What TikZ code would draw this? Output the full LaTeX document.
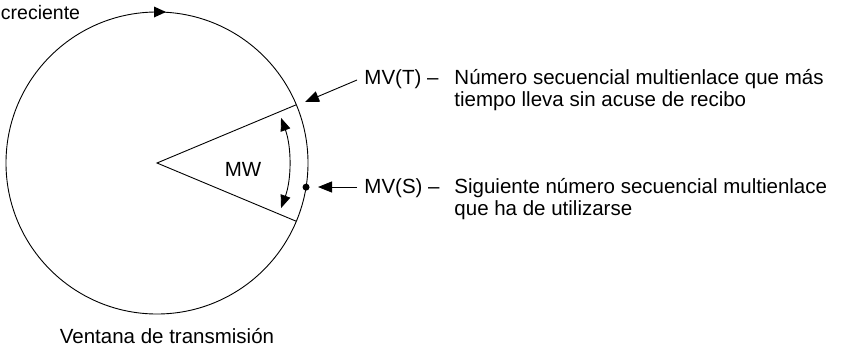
\documentclass[tikz,border=0pt]{standalone}
\usepackage{fontspec}
\setmainfont{Liberation Sans}
\usetikzlibrary{arrows.meta,calc}
\begin{document}
\begin{tikzpicture}[x=1pt,y=-1pt,
  line width=0.9pt,
  lbl/.style={inner sep=0pt,anchor=base west,font=\fontsize{20.5}{22}\selectfont},
  tip/.style={-{Triangle[length=14pt,width=11pt]}},
  dtip/.style={{Triangle[length=13pt,width=10pt]}-{Triangle[length=13pt,width=10pt]}}]
\useasboundingbox (0,0) rectangle (842,354);
\coordinate (c) at (157,163);
\node[draw,circle,minimum size=302pt,inner sep=0pt] (circ) at (c) {};
\coordinate (u) at ($(c)+(-22.7:151)$);
\coordinate (l) at ($(c)+(22.7:151)$);
\draw (u) -- (c) -- (l);
\draw[dtip] ($(c)+(-20:132)$) arc[start angle=-20,end angle=20,radius=132];
\fill[shift={(c)}] (9.2:151) coordinate (s) circle[radius=3.5];
\fill (166,12) -- (154,6.5) -- (154,17.5) -- cycle;
\node[lbl,font=\fontsize{19.5}{22}\selectfont] (cre) at (0.5,19.5) {creciente};
\node[lbl,anchor=base] (mw) at (243,176.5) {MW};
\node[lbl,anchor=base] (vt) at (167,343.5) {Ventana de transmisión};
\node[lbl] (mvt) at (364,84.5) {MV(T) –};
\node[lbl,align=left,anchor=north west] (mvtd) at (454,69) {Número secuencial multienlace que más\\tiempo lleva sin acuse de recibo};
\node[lbl] (mvs) at (364,193.5) {MV(S) –};
\node[lbl,align=left,anchor=north west] (mvsd) at (454,178) {Siguiente número secuencial multienlace\\que ha de utilizarse};
\coordinate (at) at (305,102);
\coordinate (as) at (318,187);
\coordinate (ft) at (357,80);
\coordinate (fs) at (357,187);
\draw[tip] (ft) -- (at);
\draw[tip] (fs) -- (as);
\end{tikzpicture}
\end{document}
